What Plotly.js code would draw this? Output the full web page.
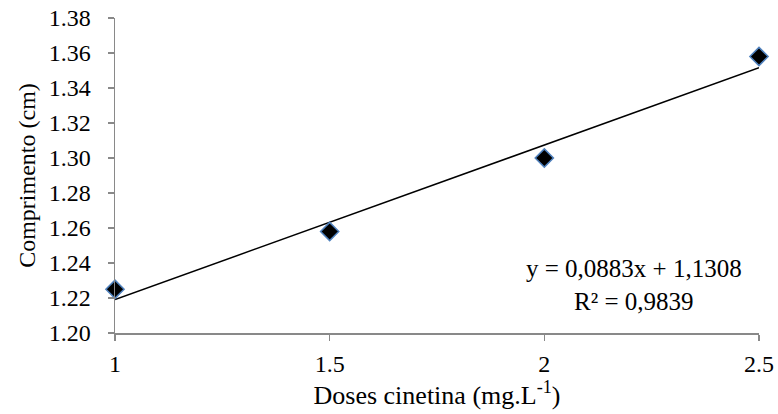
<!DOCTYPE html>
<html><head><meta charset="utf-8">
<script src="https://cdn.plot.ly/plotly-3.0.1.min.js"></script>
<style>html,body{margin:0;padding:0;background:#fff}#c{width:778px;height:414px}</style>
</head><body><div id="c"></div>
<script>
var doses = [1, 1.5, 2, 2.5];
var comprimento = [1.225, 1.258, 1.300, 1.358];
var slope = 0.0883, intercept = 1.1308;
var eqText = "y = 0,0883x + 1,1308<br>R² = 0,9839";
var yTicks = [1.20,1.22,1.24,1.26,1.28,1.30,1.32,1.34,1.36,1.38];
var xTicks = [1, 1.5, 2, 2.5];

var trendX = [doses[0], doses[doses.length-1]];
var trendY = trendX.map(function(x){return slope*x+intercept;});
var fam = "'Liberation Serif', 'Times New Roman', serif";
var tickFont = {family: fam, size: 24, color: "#000"};
var titleFont = {family: fam, size: 24, color: "#000"};
var xTitleFont = {family: fam, size: 26, color: "#000"};
var annFont = {family: fam, size: 25, color: "#000"};
var data = [
  {x: trendX, y: trendY, mode: "lines", line: {color: "#000", width: 1.5}, cliponaxis: false, hoverinfo: "skip"},
  {x: doses, y: comprimento, mode: "markers", cliponaxis: false,
   marker: {symbol: "diamond", size: 14, color: "#000", line: {color: "#4F81BD", width: 1.5}}}
];
var layout = {
  width: 778, height: 414, showlegend: false,
  margin: {l: 115, r: 19, t: 18, b: 81},
  paper_bgcolor: "#fff", plot_bgcolor: "#fff",
  font: tickFont,
  xaxis: {range: [1, 2.5], tickvals: xTicks, ticktext: xTicks.map(String), showgrid: false, zeroline: false,
    showline: true, linecolor: "#898989", linewidth: 1.5, ticks: "outside", ticklen: 6, tickcolor: "#898989", tickwidth: 1.5,
    tickfont: tickFont, ticklabelstandoff: 3, title: {text: "Doses cinetina (mg.L<sup>-1</sup>)", font: xTitleFont, standoff: 5}},
  yaxis: {range: [1.20, 1.38], tickvals: yTicks, ticktext: yTicks.map(function(v){return v.toFixed(2);}), showgrid: false, zeroline: false,
    showline: true, linecolor: "#898989", linewidth: 1.5, ticks: "outside", ticklen: 6, tickcolor: "#898989", tickwidth: 1.5,
    tickfont: tickFont, ticklabelstandoff: 12, title: {text: "Comprimento (cm)", font: titleFont, standoff: 6}},
  annotations: [{x: 2.209, y: 1.2274, xref: "x", yref: "y", text: eqText, showarrow: false, font: annFont, align: "center"}]
};
Plotly.newPlot("c", data, layout, {staticPlot: true});
</script></body></html>
